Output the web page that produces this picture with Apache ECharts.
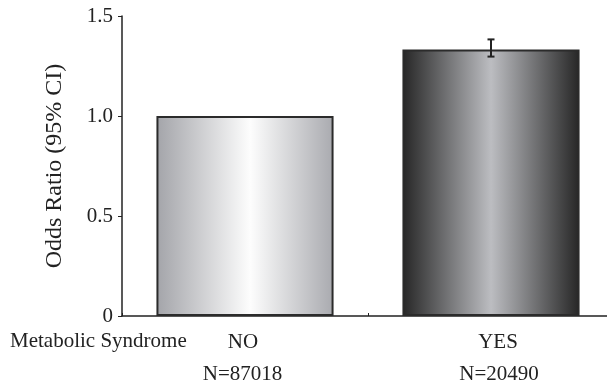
<!DOCTYPE html>
<html>
<head>
<meta charset="utf-8">
<script src="https://cdn.jsdelivr.net/npm/echarts@6/dist/echarts.min.js"></script>
<style>html,body{margin:0;padding:0;background:#fff;}#c{width:607px;height:384px;}</style>
</head>
<body>
<div id="c"></div>
<script>
const categories = ['NO', 'YES'];
const sampleSizes = ['N=87018', 'N=20490'];
const oddsRatio = [1.0, 1.333];
const ciLow = [null, 1.297];
const ciHigh = [null, 1.383];
const yTicks = [0, 0.5, 1.0, 1.5];
const rowLabel = 'Metabolic Syndrome';
const yName = 'Odds Ratio (95% CI)';

const FONT = '"Liberation Serif", "Times New Roman", serif';
const chart = echarts.init(document.getElementById('c'), null, {renderer: 'canvas'});

const gradNo = new echarts.graphic.LinearGradient(0, 0, 1, 0, [
  {offset: 0, color: '#a3a4a9'},
  {offset: 0.53, color: '#fdfdfd'},
  {offset: 1, color: '#a9aaaf'}
]);
const gradYes = new echarts.graphic.LinearGradient(0, 0, 1, 0, [
  {offset: 0, color: '#262626'},
  {offset: 0.5, color: '#bcbdc1'},
  {offset: 1, color: '#262626'}
]);

const errData = categories.map((c, i) => [i, ciLow[i], ciHigh[i]]).filter(d => d[1] != null);

const txt = {fontFamily: FONT, fontSize: 21, color: '#222', lineHeight: 32};

chart.setOption({
  animation: false,
  grid: {left: 122, top: 16, width: 492, height: 300, containLabel: false, outerBoundsMode: 'none'},
  graphic: [{
    type: 'text', left: 10, top: 331,
    style: {text: rowLabel, font: '21px ' + FONT, fill: '#222'}
  }],
  xAxis: {
    type: 'category',
    data: categories,
    axisLine: {lineStyle: {color: '#222', width: 1.5}},
    axisTick: {show: true, inside: true, length: 3, lineStyle: {color: '#222'}},
    axisLabel: {
      margin: 10,
      formatter: function (v, i) {
        return '{a' + i + '|' + v + '}\n{b' + i + '|' + sampleSizes[i] + '}';
      },
      rich: {
        a0: Object.assign({}, txt, {padding: [0, 4, 0, 0]}),
        b0: Object.assign({}, txt, {padding: [0, 5, 0, 0]}),
        a1: Object.assign({}, txt, {padding: [0, 0, 0, 14]}),
        b1: Object.assign({}, txt, {padding: [0, 0, 0, 16]})
      }
    }
  },
  yAxis: {
    type: 'value',
    min: 0, max: 1.5, interval: 0.5,
    name: yName,
    nameLocation: 'middle',
    nameGap: 55,
    nameTextStyle: {fontFamily: FONT, fontSize: 24, color: '#222'},
    splitLine: {show: false},
    axisLine: {show: true, lineStyle: {color: '#222', width: 1.5}},
    axisTick: {show: true, length: 4, lineStyle: {color: '#222'}},
    axisLabel: {
      margin: 9,
      fontFamily: FONT, fontSize: 21, color: '#222',
      formatter: function (v) {
        const t = yTicks.find(x => Math.abs(x - v) < 1e-9);
        return t === 0 ? '0' : t.toFixed(1);
      }
    }
  },
  series: [{
    type: 'bar',
    barWidth: '72%',
    data: oddsRatio.map((v, i) => ({
      value: v,
      itemStyle: {color: i === 0 ? gradNo : gradYes, borderColor: '#2b2b2b', borderWidth: 2}
    }))
  }, {
    type: 'custom',
    data: errData,
    z: 10,
    renderItem: function (params, api) {
      const x = api.value(0);
      const lo = api.coord([x, api.value(1)]);
      const hi = api.coord([x, api.value(2)]);
      const w = 3.5;
      const st = {stroke: '#222', lineWidth: 2};
      return {type: 'group', children: [
        {type: 'line', shape: {x1: lo[0], y1: lo[1], x2: hi[0], y2: hi[1]}, style: st},
        {type: 'line', shape: {x1: lo[0] - w, y1: lo[1], x2: lo[0] + w, y2: lo[1]}, style: st},
        {type: 'line', shape: {x1: hi[0] - w, y1: hi[1], x2: hi[0] + w, y2: hi[1]}, style: st}
      ]};
    }
  }]
});
</script>
</body>
</html>
